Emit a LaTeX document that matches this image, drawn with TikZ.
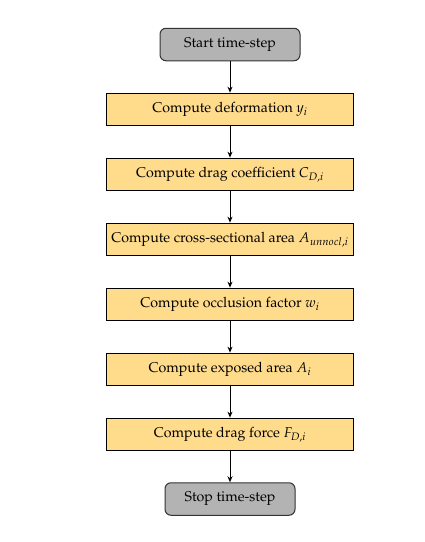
\documentclass[tikz,border=0pt]{standalone}
\usepackage[T1]{fontenc}
\usepackage{mathpazo}
\usetikzlibrary{arrows.meta}
\definecolor{boxfill}{RGB}{255,219,140}
\definecolor{termfill}{RGB}{179,179,179}
\begin{document}
\begin{tikzpicture}[x=1pt,y=-1pt,
  font=\fontsize{14.2}{17}\selectfont,
  procbox/.style={draw=black,line width=1.3pt,fill=boxfill,minimum width=247pt,minimum height=32pt,inner sep=0pt},
  termbox/.style={draw=black!80,line width=1pt,fill=termfill,rounded corners=6pt,minimum height=32.5pt,inner sep=0pt},
  flow/.style={draw=black,line width=0.9pt,-{Stealth[length=6pt,width=5pt]}}]
\useasboundingbox (0,0) rectangle (425,542);
\node[termbox,minimum width=140pt] (start) at (230,44.5) {Start time-step};
\node[procbox] (b1) at (230,109.3) {Compute deformation $y_i$};
\node[procbox] (b2) at (230,174.3) {Compute drag coefficient $C_{D,i}$};
\node[procbox] (b3) at (230,239.3) {Compute cross-sectional area $A_{unnocl,i}$};
\node[procbox] (b4) at (230,304.3) {Compute occlusion factor $w_i$};
\node[procbox] (b5) at (230,369.3) {Compute exposed area $A_i$};
\node[procbox] (b6) at (230,434.3) {Compute drag force $F_{D,i}$};
\node[termbox,minimum width=130pt] (stop) at (230,499) {Stop time-step};
\draw[flow] (start) -- (b1);
\draw[flow] (b1) -- (b2);
\draw[flow] (b2) -- (b3);
\draw[flow] (b3) -- (b4);
\draw[flow] (b4) -- (b5);
\draw[flow] (b5) -- (b6);
\draw[flow] (b6) -- (stop);
\end{tikzpicture}
\end{document}
